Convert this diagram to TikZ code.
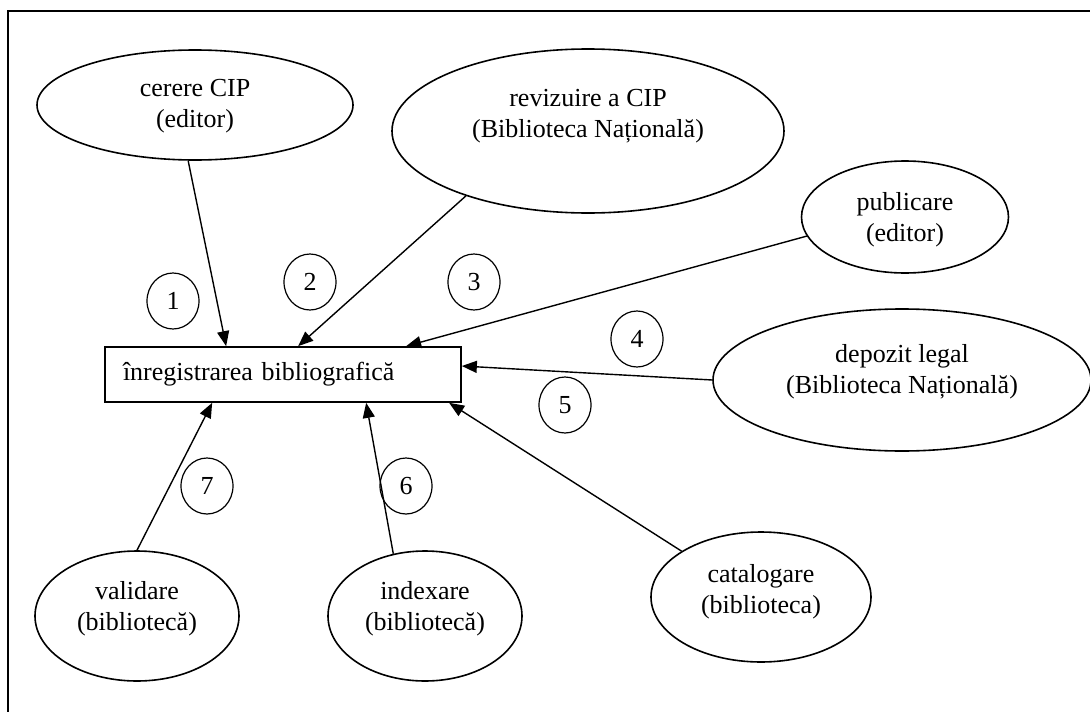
\documentclass[tikz,border=0pt]{standalone}
\usepackage{fontspec}
\setmainfont{Liberation Serif}
\usetikzlibrary{shapes.geometric,arrows.meta}

\tikzset{
  ell/.style={ellipse, draw, line width=1.6pt, inner sep=0pt, align=center,
              font=\fontsize{26}{31}\selectfont},
  numc/.style={ellipse, draw, line width=1.2pt, inner sep=0pt,
               minimum width=52pt, minimum height=56pt,
               font=\fontsize{26}{30}\selectfont},
  recbox/.style={rectangle, draw, line width=1.7pt, inner xsep=18pt, inner ysep=0pt,
                 minimum height=55pt, text width=320pt, align=left,
                 font=\fontsize{26}{30}\selectfont},
  arr/.style={line width=1.4pt, -{Triangle[length=15pt,width=12pt]}},
  frame/.style={line width=1.8pt}
}

\begin{document}
\begin{tikzpicture}[x=1pt,y=-1pt]
  \useasboundingbox (0,0) rectangle (1090,712);

  % open frame (left and top edges)
  \draw[frame] (8,712) -- (8,11) -- (1090,11);

  % central record
  \node[recbox] (rec) at (283,374.5) {înregistrarea bibliografică};

  % sources
  \node[ell, minimum width=316pt, minimum height=110pt, text depth=3pt] (cerere) at (195,105)
       {cerere CIP\\(editor)};
  \node[ell, minimum width=392pt, minimum height=164pt, text depth=35pt] (revizuire) at (588,131)
       {revizuire a CIP\\(Biblioteca Națională)};
  \node[ell, minimum width=207pt, minimum height=112pt, text depth=1pt] (publicare) at (905,217)
       {publicare\\(editor)};
  \node[ell, minimum width=378pt, minimum height=142pt, text depth=23pt] (depozit) at (902,380)
       {depozit legal\\(Biblioteca Națională)};
  \node[ell, minimum width=220pt, minimum height=130pt, text depth=17pt] (catalogare) at (761,597)
       {catalogare\\(biblioteca)};
  \node[ell, minimum width=194pt, minimum height=130pt, text depth=21pt] (indexare) at (425,616)
       {indexare\\(bibliotecă)};
  \node[ell, minimum width=204pt, minimum height=130pt, text depth=21pt] (validare) at (137,616)
       {validare\\(bibliotecă)};

  % step numbers
  \node[numc] (n1) at (173,301) {1};
  \node[numc] (n2) at (310,282) {2};
  \node[numc] (n3) at (474,282) {3};
  \node[numc] (n4) at (637,339) {4};
  \node[numc] (n5) at (565,405) {5};
  \node[numc] (n6) at (406,486) {6};
  \node[numc] (n7) at (207,486) {7};

  % arrival points on the record box
  \coordinate (t1) at ([xshift=122pt]rec.north west);
  \coordinate (t2) at ([xshift=194pt]rec.north west);
  \coordinate (t3) at ([xshift=302pt]rec.north west);
  \coordinate (t4) at ([yshift=8.5pt]rec.east);
  \coordinate (t5) at ([xshift=345pt]rec.south west);
  \coordinate (t6) at ([xshift=262pt]rec.south west);
  \coordinate (t7) at ([xshift=108pt]rec.south west);

  % flows
  \draw[arr] (cerere.-97)     -- (t1);
  \draw[arr] (revizuire.-152) -- (t2);
  \draw[arr] (publicare.-169) -- (t3);
  \draw[arr] (depozit.180)    -- (t4);
  \draw[arr] (catalogare.150) -- (t5);
  \draw[arr] (indexare.117)   -- (t6);
  \draw[arr] (validare.90)    -- (t7);
\end{tikzpicture}
\end{document}
